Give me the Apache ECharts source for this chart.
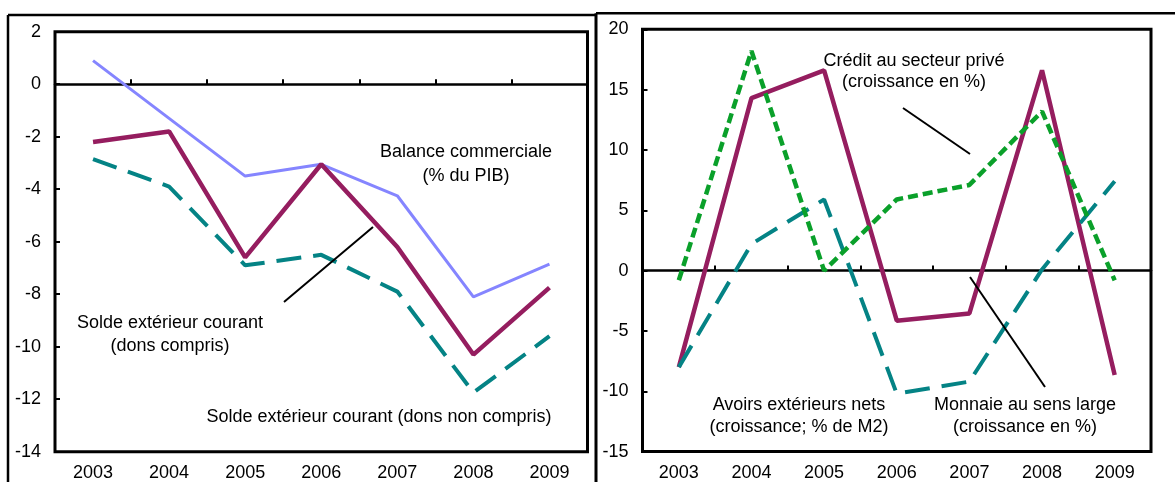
<!DOCTYPE html>
<html><head><meta charset="utf-8">
<script src="https://cdn.jsdelivr.net/npm/echarts@6/dist/echarts.min.js"></script>
<style>html,body{margin:0;padding:0;background:#fff}#c{width:1175px;height:482px}</style>
</head><body><div id="c"></div>
<script>
// ---- data ----
const years = ['2003', '2004', '2005', '2006', '2007', '2008', '2009'];
// left panel (% du PIB)
const balanceCommerciale = [0.9, -1.3, -3.5, -3.05, -4.25, -8.1, -6.85];
const soldeDonsCompris = [-2.2, -1.8, -6.6, -3.05, -6.2, -10.3, -7.75];
const soldeDonsNonCompris = [-2.85, -3.9, -6.9, -6.5, -7.9, -11.75, -9.6];
// right panel (croissance en %)
const monnaieSensLarge = [-8.0, 14.3, 16.6, -4.15, -3.55, 16.6, -8.65];
const creditSecteurPrive = [-0.8, 18.2, 0.0, 5.9, 7.1, 13.2, -0.8];
const avoirsExterieursNets = [-8.0, 2.2, 5.9, -10.2, -9.2, 0.1, 7.4];
// axis tick settings
const leftAxisMin = -14, leftAxisMax = 2, leftAxisStep = 2;
const rightAxisMin = -15, rightAxisMax = 20, rightAxisStep = 5;

// ---- styles ----
const FONT = 'Liberation Sans, Arial, sans-serif';
const PURPLE = '#951d5f', TEAL = '#048385', BLUE = '#8585ff', GREEN = '#0aa02a';

const chart = echarts.init(document.getElementById('c'), null, {renderer: 'canvas'});

function xAxesFor(g) {
  return [
    { gridIndex: g, type: 'category', data: years, position: 'bottom',
      axisLine: {show: false, onZero: false}, axisTick: {show: false},
      axisLabel: {fontFamily: FONT, fontSize: 18, color: '#000', margin: 12} },
    { gridIndex: g, type: 'category', data: years, position: 'bottom',
      axisLine: {show: true, onZero: true, lineStyle: {color: '#000', width: 2.5}},
      axisTick: {show: true, inside: true, length: 5, lineStyle: {color: '#000', width: 2}},
      axisLabel: {show: false}, splitLine: {show: false} }
  ];
}
function yAxisFor(g, min, max, step) {
  return { gridIndex: g, type: 'value', min: min, max: max, interval: step,
    axisLine: {show: false, onZero: false},
    axisTick: {show: true, inside: true, length: 5, lineStyle: {color: '#000', width: 2}},
    axisLabel: {fontFamily: FONT, fontSize: 18, color: '#000', margin: 14},
    splitLine: {show: false} };
}
function lineSeries(name, data, g, color, width, type) {
  return { name: name, type: 'line', data: data, xAxisIndex: g * 2, yAxisIndex: g,
    symbol: 'none', smooth: false,
    lineStyle: {color: color, width: width, type: type || 'solid'} };
}
function txt(x, y, text, lh) {
  return { type: 'text', x: x, y: y, z: 100,
    style: { text: text, fontFamily: FONT, fontSize: 18, fill: '#000',
      textAlign: 'center', textVerticalAlign: 'middle', lineHeight: lh || 23 } };
}
function seg(x1, y1, x2, y2, w) {
  return { type: 'line', z: 100, shape: {x1: x1, y1: y1, x2: x2, y2: y2},
    style: {stroke: '#000', lineWidth: w || 2} };
}

chart.setOption({
  animation: false,
  backgroundColor: '#fff',
  grid: [
    { left: 55, top: 31.7, width: 532.5, height: 420, show: true, borderColor: '#000', borderWidth: 3 },
    { left: 642.5, top: 29.3, width: 508.5, height: 422.3, show: true, borderColor: '#000', borderWidth: 3 }
  ],
  xAxis: xAxesFor(0).concat(xAxesFor(1)),
  yAxis: [yAxisFor(0, leftAxisMin, leftAxisMax, leftAxisStep),
          yAxisFor(1, rightAxisMin, rightAxisMax, rightAxisStep)],
  series: [
    lineSeries('Balance commerciale (% du PIB)', balanceCommerciale, 0, BLUE, 3),
    lineSeries('Solde extérieur courant (dons non compris)', soldeDonsNonCompris, 0, TEAL, 4, [25, 12]),
    lineSeries('Solde extérieur courant (dons compris)', soldeDonsCompris, 0, PURPLE, 4.5),
    lineSeries('Monnaie au sens large (croissance en %)', monnaieSensLarge, 1, PURPLE, 4.5),
    lineSeries('Avoirs extérieurs nets (croissance; % de M2)', avoirsExterieursNets, 1, TEAL, 4, [25, 12]),
    lineSeries('Crédit au secteur privé (croissance en %)', creditSecteurPrive, 1, GREEN, 4.5, [10, 5])
  ],
  graphic: [
    // outer panel frames
    seg(8, 15, 596, 15, 2.5), seg(8, 15, 8, 482, 2.5),
    seg(596, 13.3, 1175, 13.3, 2.5), seg(596, 13.3, 596, 482, 3),
    // left annotations
    txt(466, 164, 'Balance commerciale\n(% du PIB)', 24),
    seg(373, 227, 284, 302, 2),
    txt(170, 334.5, 'Solde extérieur courant\n(dons compris)', 23),
    txt(379, 416.7, 'Solde extérieur courant (dons non compris)'),
    // right annotations
    txt(914, 71.7, 'Crédit au secteur privé\n(croissance en %)', 21),
    seg(903, 108, 970, 154, 2),
    txt(799, 416, 'Avoirs extérieurs nets\n(croissance; % de M2)', 22),
    txt(1025, 416, 'Monnaie au sens large\n(croissance en %)', 22),
    seg(970, 277, 1045, 387, 2)
  ]
});
</script></body></html>
